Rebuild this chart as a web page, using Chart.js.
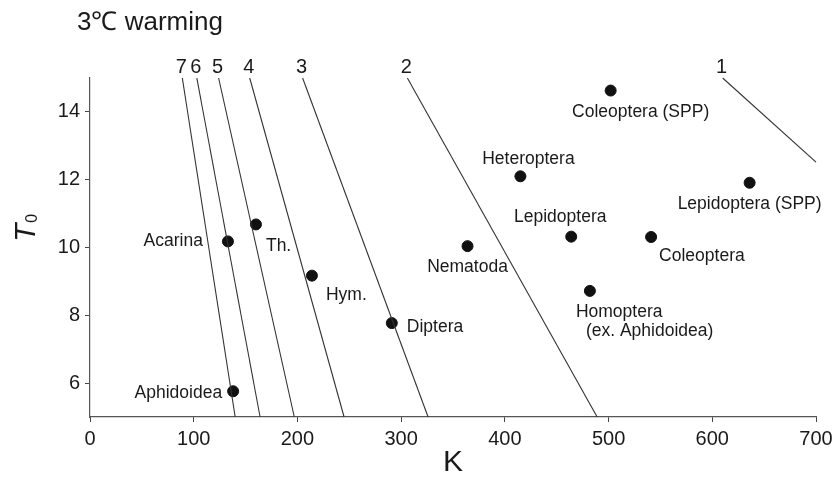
<!DOCTYPE html>
<html>
<head>
<meta charset="utf-8">
<script src="https://cdn.jsdelivr.net/npm/chart.js@4/dist/chart.umd.min.js"></script>
<style>
  body { margin: 0; background: #fff; }
  canvas { display: block; }
</style>
</head>
<body>
<canvas id="warmChart" width="838" height="483"></canvas>
<script>
// taxa (points)
const taxa = ['Coleoptera (SPP)', 'Heteroptera', 'Lepidoptera (SPP)', 'Lepidoptera', 'Coleoptera',
  'Nematoda', 'Homoptera|(ex. Aphidoidea)', 'Diptera', 'Acarina', 'Th.', 'Hym.', 'Aphidoidea'];
const kValues = [502, 415, 636, 464, 541, 364, 482, 291, 133, 160, 214, 138];
const t0Values = [14.63, 12.1, 11.91, 10.32, 10.31, 10.04, 8.72, 7.77, 10.18, 10.68, 9.17, 5.76];

// isolines 1..7
const lineNames = ['1', '2', '3', '4', '5', '6', '7'];
const lineStartK = [610, 306, 205, 154, 124, 103, 89];
const lineStartT = [15, 15, 15, 15, 15, 15, 15];
const lineEndK = [700, 489, 326, 245, 197, 164, 140];
const lineEndT = [12.52, 5, 5, 5, 5, 5, 5];

const xTicks = [0, 100, 200, 300, 400, 500, 600, 700];
const yTicks = [6, 8, 10, 12, 14];

// where each label sits relative to its dot (px): [dx, dy, align] per text line
const labelPos = [
  [[30, 22, 'center']],
  [[8, -17, 'center']],
  [[0, 21, 'center']],
  [[-11, -19, 'center']],
  [[8, 19, 'left']],
  [[0, 21, 'center']],
  [[-14, 21, 'left'], [-4, 40, 'left']],
  [[15, 4, 'left']],
  [[-25, 0, 'right']],
  [[10, 22, 'left']],
  [[14, 20, 'left']],
  [[-11, 2, 'right']]
];

const FONT = '"Liberation Sans", Arial, Helvetica, sans-serif';
const INK = '#1a1a1a';

var datasets = [];
for (var i = 0; i < lineNames.length; i++) {
  datasets.push({
    type: 'line',
    label: 'line ' + lineNames[i],
    data: [{x: lineStartK[i], y: lineStartT[i]}, {x: lineEndK[i], y: lineEndT[i]}],
    borderColor: '#333',
    borderWidth: 1.1,
    pointRadius: 0,
    fill: false,
    clip: false
  });
}
datasets.push({
  type: 'scatter',
  label: 'taxa',
  data: kValues.map(function(k, j) { return {x: k, y: t0Values[j]}; }),
  backgroundColor: '#111',
  borderColor: '#111',
  pointRadius: 5.5
});

const textPlugin = {
  id: 'textPlugin',
  afterDraw: function(chart) {
    var ctx = chart.ctx;
    var xs = chart.scales.x, ys = chart.scales.y;
    ctx.save();
    ctx.fillStyle = INK;

    // title
    ctx.font = '26px ' + FONT;
    ctx.textAlign = 'left';
    ctx.textBaseline = 'middle';
    ctx.fillText('3\u2103 warming', 77, 23);

    // line numbers
    ctx.font = '20px ' + FONT;
    ctx.textAlign = 'center';
    for (var i = 0; i < lineNames.length; i++) {
      ctx.fillText(lineNames[i], xs.getPixelForValue(lineStartK[i]) - 1, ys.getPixelForValue(lineStartT[i]) - 11);
    }

    // point labels
    ctx.font = '17.5px ' + FONT;
    for (var j = 0; j < taxa.length; j++) {
      var px = xs.getPixelForValue(kValues[j]);
      var py = ys.getPixelForValue(t0Values[j]);
      var parts = taxa[j].split('|');
      for (var p = 0; p < parts.length; p++) {
        var pos = labelPos[j][p];
        ctx.textAlign = pos[2];
        ctx.fillText(parts[p], px + pos[0], py + pos[1]);
      }
    }

    // x axis title
    ctx.font = '30px ' + FONT;
    ctx.textAlign = 'center';
    ctx.fillText('K', (xs.left + xs.right) / 2, 463);

    // y axis title T0
    ctx.translate(35, 242);
    ctx.rotate(-Math.PI / 2);
    ctx.textAlign = 'left';
    ctx.textBaseline = 'alphabetic';
    ctx.font = 'italic 30px ' + FONT;
    ctx.fillText('T', 0, 0);
    var tw = ctx.measureText('T').width;
    ctx.font = '16px ' + FONT;
    ctx.fillText('0', tw + 1, 2);
    ctx.restore();
  }
};

const CHART = document.getElementById('warmChart');
var warmChart = new Chart(CHART, {
  type: 'scatter',
  data: { datasets: datasets },
  options: {
    responsive: false,
    animation: false,
    layout: { padding: { top: 78, right: 22, left: 0, bottom: 0 } },
    plugins: {
      legend: { display: false },
      tooltip: { enabled: false }
    },
    scales: {
      x: {
        type: 'linear',
        min: 0,
        max: 700,
        afterFit: function(s) { s.height = 66; },
        afterBuildTicks: function(s) { s.ticks = xTicks.map(function(v) { return {value: v}; }); },
        grid: { display: true, drawOnChartArea: false, drawTicks: true, tickLength: 5, color: '#444' },
        border: { display: true, color: '#555', width: 1.2 },
        ticks: { color: INK, padding: 5, font: { family: FONT, size: 20 } }
      },
      y: {
        type: 'linear',
        min: 5,
        max: 15,
        afterFit: function(s) { s.width = 90; },
        afterBuildTicks: function(s) { s.ticks = yTicks.map(function(v) { return {value: v}; }); },
        grid: { display: true, drawOnChartArea: false, drawTicks: true, tickLength: 5, color: '#444' },
        border: { display: true, color: '#555', width: 1.2 },
        ticks: { color: INK, padding: 5, font: { family: FONT, size: 20 } }
      }
    }
  },
  plugins: [textPlugin]
});
</script>
</body>
</html>
